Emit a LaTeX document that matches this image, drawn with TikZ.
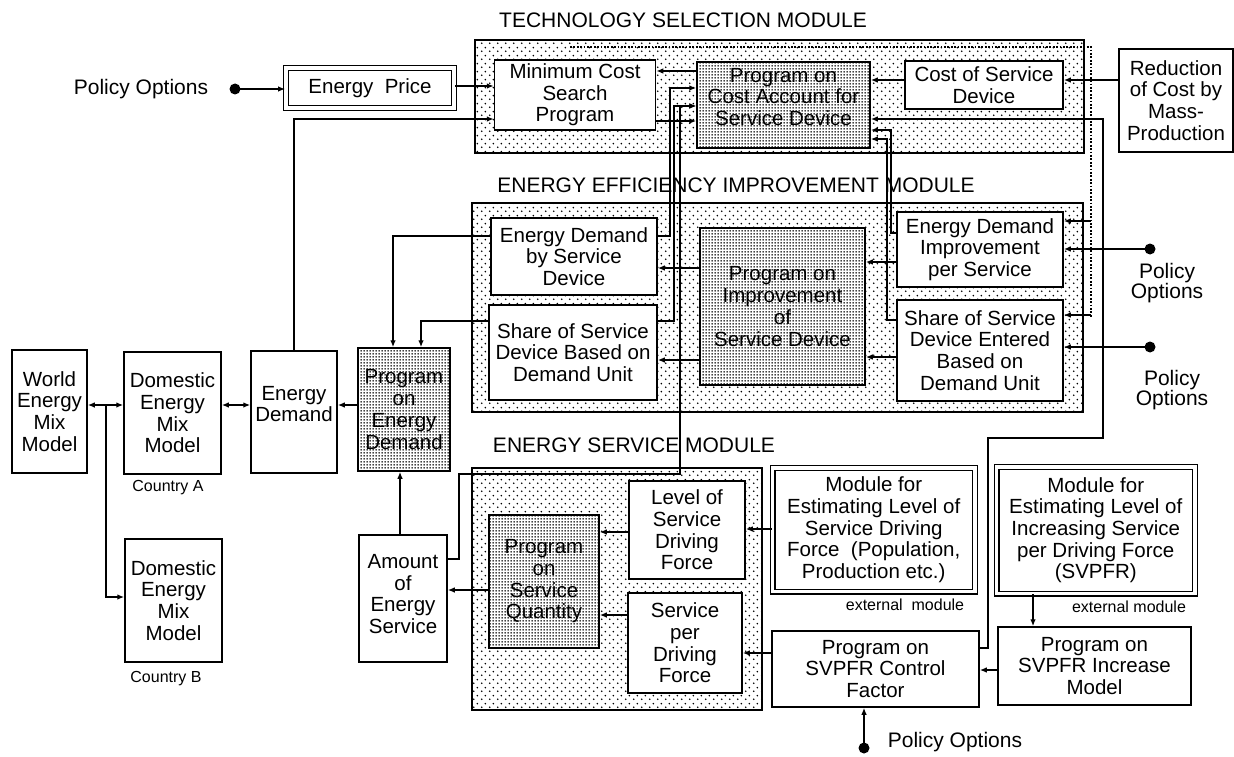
\documentclass[tikz,border=0pt]{standalone}
\usepackage{fontspec}
\setmainfont{Liberation Sans}
\usetikzlibrary{arrows.meta,patterns}
\pgfdeclarepatternformonly{moddots}{\pgfqpoint{0pt}{0pt}}{\pgfqpoint{8pt}{8pt}}{\pgfqpoint{8pt}{8pt}}{%
  \pgfpathcircle{\pgfqpoint{2pt}{2pt}}{1.0pt}%
  \pgfpathcircle{\pgfqpoint{6pt}{6pt}}{1.0pt}%
  \pgfusepath{fill}}
\pgfdeclarepatternformonly{densedots}{\pgfqpoint{0pt}{0pt}}{\pgfqpoint{3pt}{3pt}}{\pgfqpoint{3pt}{3pt}}{%
  \pgfpathcircle{\pgfqpoint{1.5pt}{1.5pt}}{1.12pt}%
  \pgfusepath{fill}}
\newcommand{\bxfont}{\fontsize{20.5}{21.7}\selectfont}
\newcommand{\ttlfont}{\fontsize{21}{24}\selectfont}
\newcommand{\polfont}{\fontsize{21}{20.5}\selectfont}
\newcommand{\smfont}{\fontsize{16}{18}\selectfont}
\begin{document}
\begin{tikzpicture}[x=1pt,y=-1pt,
  bbase/.style={draw,line width=1.5pt,inner sep=0pt,align=center,font=\bxfont},
  box/.style={bbase,fill=white},
  shadebox/.style={bbase,preaction={fill=white},pattern=densedots},
  dbox/.style={bbase,fill=white,double,double distance=3.6pt,line width=1.2pt},
  module/.style={draw,line width=1.5pt,pattern=moddots},
  conn/.style={line width=1.3pt},
  arr/.style={conn,-{Latex[length=7pt,width=5.5pt]}},
  barr/.style={conn,{Latex[length=7pt,width=5.5pt]}-{Latex[length=7pt,width=5.5pt]}},
  dotline/.style={line width=1.8pt,dash pattern=on 1.8pt off 1.6pt},
  ttl/.style={font=\ttlfont,inner sep=0pt},
  pol/.style={font=\polfont,align=center,inner sep=0pt},
  sml/.style={font=\smfont,inner sep=0pt},
  btxt/.style={font=\bxfont,align=center,inner sep=0pt}]
\useasboundingbox (0,0) rectangle (1234,757);

% module backgrounds
\draw[module] (475,40) rectangle (1084,153);
\draw[module] (472,203) rectangle (1083,412);
\draw[module] (472,468) rectangle (762,710);

% titles
\node[ttl] (tts) at (683,20) {TECHNOLOGY SELECTION MODULE};
\node[ttl] (tee) at (736,185) {ENERGY EFFICIENCY IMPROVEMENT MODULE};
\node[ttl] (tes) at (634,445) {ENERGY SERVICE MODULE};

% boxes
\node[dbox,minimum width=168.5pt,minimum height=40pt] (eprice) at (370,88) {Energy\ \ Price};
\node[box,minimum width=161pt,minimum height=70pt] (mincost) at (575,95) {Minimum Cost\\Search\\Program};
\node[shadebox,minimum width=173pt,minimum height=86pt] (costacc) at (783.5,105) {};
\node[btxt] (costacctxt) at (783.5,97) {Program on\\Cost Account for\\Service Device};
\node[box,minimum width=158pt,minimum height=48pt] (costserv) at (984,85) {Cost of Service\\Device};
\node[box,minimum width=114pt,minimum height=103pt] (reduction) at (1176,100.5) {Reduction\\of Cost by\\Mass-\\Production};

\node[box,minimum width=166pt,minimum height=77pt] (edsd) at (574,256.5) {Energy Demand\\by Service\\Device};
\node[box,minimum width=168pt,minimum height=95pt] (shbased) at (573,352.5) {Share of Service\\Device Based on\\Demand Unit};
\node[shadebox,minimum width=165pt,minimum height=157pt] (improve) at (782.5,306.5) {Program on\\Improvement\\of\\Service Device};
\node[box,minimum width=166pt,minimum height=75pt] (edi) at (980,249.5) {Energy Demand\\Improvement\\per Service};
\node[box,minimum width=166pt,minimum height=101pt] (shent) at (980,350.5) {Share of Service\\Device Entered\\Based on\\Demand Unit};

\node[box,minimum width=75pt,minimum height=123pt] (world) at (49.5,411.5) {World\\Energy\\Mix\\Model};
\node[box,minimum width=97pt,minimum height=122pt] (domA) at (172.5,413) {Domestic\\Energy\\Mix\\Model};
\node[box,minimum width=86pt,minimum height=122pt] (endem) at (294,412) {};
\node[btxt] (endemtxt) at (294,404) {Energy\\Demand};
\node[shadebox,minimum width=92pt,minimum height=123pt] (ped) at (404,409.5) {Program\\on\\Energy\\Demand};
\node[box,minimum width=97pt,minimum height=123pt] (domB) at (173.5,600.5) {Domestic\\Energy\\Mix\\Model};
\node[box,minimum width=88pt,minimum height=127pt] (amount) at (403,598.5) {};
\node[btxt] (amounttxt) at (403,594) {Amount\\of\\Energy\\Service};

\node[shadebox,minimum width=110pt,minimum height=133pt] (psq) at (544,581.5) {Program\\on\\Service\\Quantity};
\node[box,minimum width=116pt,minimum height=98pt] (level) at (687,530) {Level of\\Service\\Driving\\Force};
\node[box,minimum width=114pt,minimum height=100pt] (spdf) at (685,643) {Service\\per\\Driving\\Force};

\node[dbox,minimum width=202.5pt,minimum height=123.5pt] (modlevel) at (873.75,529.75) {Module for\\Estimating Level of\\Service Driving\\Force\ \ (Population,\\Production etc.)};
\node[dbox,minimum width=198.5pt,minimum height=126.5pt] (modsvpfr) at (1095.75,530.25) {Module for\\Estimating Level of\\Increasing Service\\per Driving Force\\(SVPFR)};
\node[box,minimum width=207pt,minimum height=76pt] (ctrl) at (875.5,669) {Program on\\SVPFR Control\\Factor};
\node[box,minimum width=193pt,minimum height=78pt] (incr) at (1094.5,666) {Program on\\SVPFR Increase\\Model};

% small labels
\node[sml] (ca) at (168,488) {Country A};
\node[sml] (cb) at (166,679) {Country B};
\node[sml] (ext1) at (905,605) {external\ \ module};
\node[sml] (ext2) at (1129,607) {external module};

% policy options
\coordinate (pol1) at (235,89);
\coordinate (pol2) at (1150,249);
\coordinate (pol3) at (1150,347);
\coordinate (pol4) at (864,748);
\node[pol] (pt1) at (141,89) {Policy Options};
\node[pol] (pt2) at (1167,283) {Policy\\Options};
\node[pol] (pt3) at (1172,390) {Policy\\Options};
\node[pol] (pt4) at (955,742) {Policy Options};
\foreach \p in {pol1,pol2,pol3,pol4} \fill (\p) circle (5.5pt);

% connectors, technology selection
\draw[arr] (pol1) -- (eprice.west |- pol1);
\draw[arr] (eprice.east |- 0,86) -- (mincost.west |- 0,86);
\draw[arr] (endem.north) |- (mincost.west |- 0,119);
\draw[arr] (costacc.west |- 0,71) -- (mincost.east |- 0,71);
\draw[arr] (mincost.east |- 0,121) -- (costacc.west |- 0,121);
\draw[arr] (costserv.west |- 0,80) -- (costacc.east |- 0,80);
\draw[arr] (reduction.west |- 0,80) -- (costserv.east |- 0,80);
\draw[arr] (ctrl.east |- 0,648) -- (988,648) -- (988,438) -- (1103,438) -- (1103,119) -- (costacc.east |- 0,119);
\draw[arr] (edi.west |- 0,233) -- (891,233) -- (891,130) -- (costacc.east |- 0,130);
\draw[arr] (shent.west |- 0,320) -- (887,320) -- (887,139) -- (costacc.east |- 0,139);
\draw[arr] (edsd.east |- 0,236) -- (670,236) -- (670,88) -- (costacc.west |- 0,88);
\draw[arr] (shbased.east |- 0,321) -- (674,321) -- (674,106) -- (costacc.west |- 0,106);
\draw[arr] (amount.east |- 0,559) -- (459,559) -- (459,474) -- (680,474) -- (680,106) -- (costacc.west |- 0,106);

% dotted feedback line
\coordinate (dA) at (1091,221);
\coordinate (dB) at (1091,315);
\draw[dotline] (570,47) -- (1091,47) -- (1091,318);
\draw[arr] (dA) -- (edi.east |- dA);
\draw[arr] (dB) -- (shent.east |- dB);

% efficiency module
\draw[arr] (improve.west |- 0,268) -- (edsd.east |- 0,268);
\draw[arr] (improve.west |- 0,360) -- (shbased.east |- 0,360);
\draw[arr] (edi.west |- 0,262) -- (improve.east |- 0,262);
\draw[arr] (shent.west |- 0,357) -- (improve.east |- 0,357);
\draw[arr] (pol2) -- (edi.east |- pol2);
\draw[arr] (pol3) -- (shent.east |- pol3);

% left chain
\coordinate (jn) at (106,405);
\draw[barr] (world.east |- 0,405) -- (domA.west |- 0,405);
\draw[arr] (jn) |- (domB.west |- 0,597);
\draw[barr] (domA.east |- 0,405) -- (endem.west |- 0,405);
\draw[arr] (ped.west |- 0,405) -- (endem.east |- 0,405);
\draw[arr] (edsd.west |- 0,236) -| (ped.north -| 393,0);
\draw[arr] (shbased.west |- 0,321) -| (ped.north -| 421,0);
\draw[arr] (amount.north -| 400,0) -- (ped.south -| 400,0);

% service module
\draw[arr] (psq.west |- 0,590) -- (amount.east |- 0,590);
\draw[arr] (level.west |- 0,532) -- (psq.east |- 0,532);
\draw[arr] (spdf.west |- 0,615) -- (psq.east |- 0,615);
\draw[arr] (modlevel.west |- 0,529) -- (level.east |- 0,529);
\draw[arr] (ctrl.west |- 0,653) -- (spdf.east |- 0,653);
\draw[arr] (incr.west |- 0,670) -- (ctrl.east |- 0,670);
\draw[arr] (modsvpfr.south -| 1033,0) -- (incr.north -| 1033,0);
\draw[arr] (pol4) -- (ctrl.south -| pol4);
\end{tikzpicture}
\end{document}
